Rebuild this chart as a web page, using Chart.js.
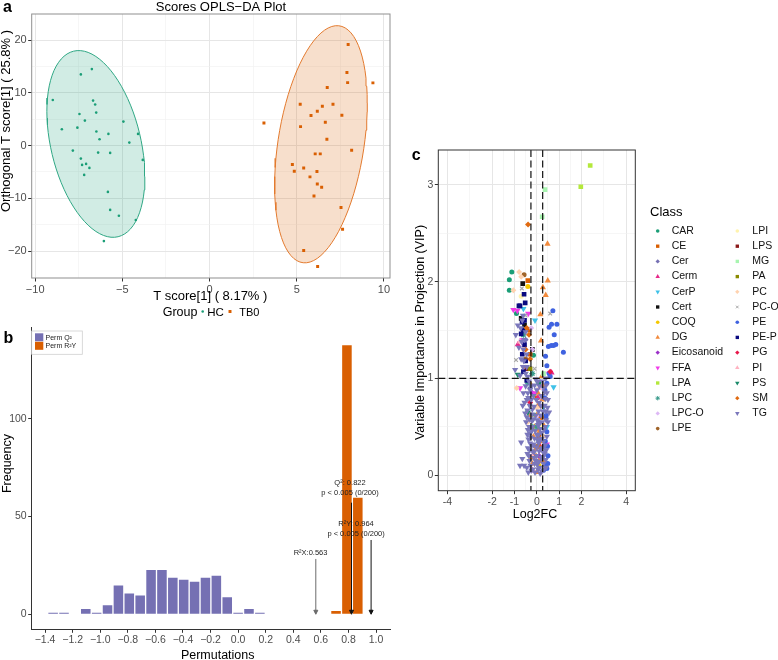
<!DOCTYPE html>
<html><head><meta charset="utf-8">
<script src="https://cdn.jsdelivr.net/npm/chart.js@4.4.1/dist/chart.umd.min.js"></script>
<style>
html,body{margin:0;padding:0;background:#fff;}
body{width:778px;height:660px;position:relative;overflow:hidden;}
.p{position:absolute;}
canvas{display:block;}
</style></head><body>
<div class="p" style="left:0;top:0;"><canvas id="ca" width="400" height="325"></canvas></div>
<div class="p" style="left:0;top:325px;"><canvas id="cb" width="400" height="335"></canvas></div>
<div class="p" style="left:400px;top:140px;"><canvas id="cc" width="378" height="390"></canvas></div>
<script>
// ---------------- DATA ----------------
// Panel a: OPLS-DA scores
const hcT  = [-8.99,-8.47,-7.84,-7.58,-7.46,-7.38,-7.38,-7.31,-7.08,-7.19,-7.15,-6.89,-6.75,-6.68,-6.56,-6.50,-6.49,-6.31,-6.39,-5.80,-5.70,-5.83,-5.70,-5.20,-4.94,-4.60,-4.10,-3.83,-4.23,-6.06];
const hcTo = [8.66,3.10,-0.95,3.40,6.00,13.50,-2.46,-3.66,-3.47,-5.55,4.74,-4.23,14.50,8.53,7.78,6.26,2.66,1.21,-1.33,2.22,-1.38,-8.78,-12.19,-13.30,4.55,0.57,2.22,-2.71,-14.10,-18.10];
const tb0T  = [7.95,7.88,7.92,9.37,6.75,5.20,7.08,6.47,6.18,5.82,7.59,3.12,5.22,6.64,6.73,8.15,6.06,6.35,4.75,4.86,5.40,6.16,5.76,6.18,6.43,5.99,7.54,7.63,5.40,6.20];
const tb0To = [19.15,13.84,11.94,11.89,11.00,7.85,7.85,7.47,6.52,5.69,5.76,4.30,3.60,4.44,1.21,-0.87,-1.57,-1.57,-3.60,-4.85,-4.23,-4.93,-5.93,-7.26,-7.89,-9.54,-11.75,-15.85,-19.90,-22.90];
const groupNames = ['HC','TB0'];
const axTicks = [-10,-5,0,5,10], axMinor = [-7.5,-2.5,2.5,7.5];
const ayTicks = [-20,-10,0,10,20], ayMinor = [-15,-5,5,15];

// Panel b: permutation histogram
const q2BinCenters = [-1.3416,-1.2627,-1.1838,-1.1049,-1.0260,-0.9471,-0.8682,-0.7893,-0.7104,-0.6315,-0.5526,-0.4737,-0.3948,-0.3159,-0.2370,-0.1581,-0.0792,-0.0003,0.0786,0.1575];
const permQ2Counts = [1,1,0,3,1,5,15,11,10,23,23,19,18,17,19,20,9,1,3,1];
const r2yBinCenters = [0.7098,0.7887,0.8676];
const permR2YCounts = [2,138,60];
const annoLabels = ['R\u00B2X:0.563', 'Q\u00B2: 0.822\np < 0.005 (0/200)', 'R\u00B2Y: 0.964\np < 0.005 (0/200)'];
const annoValues = [0.563, 0.822, 0.964];
const annoArrowTop = [28.3, 57.1, 38.0];
const annoTextX = [0.525, 0.811, 0.855];
const annoTextY = [31.2, 64.7, 43.6];
const bxTicks = [-1.4,-1.2,-1.0,-0.8,-0.6,-0.4,-0.2,0,0.2,0.4,0.6,0.8,1.0];
const byTicks = [0,50,100];

// Panel c: VIP vs Log2FC by lipid class  [log2FC, VIP]
const pCAR = [[-1.12,2.10],[-1.23,2.02],[-1.23,1.91],[-0.91,1.67],[-0.15,1.24],[0.09,0.95],[-0.20,0.50],[0.10,0.35],[-0.05,0.62]];
const pCE = [[-0.40,2.01],[-0.35,1.50],[-0.30,1.25],[0.00,0.80],[0.10,0.40],[-0.10,0.20],[0.20,0.60]];
const pCer = [[-0.50,1.40],[-0.30,0.90],[0.10,0.55],[-0.10,0.30],[0.20,0.15]];
const pCerm = [[-0.85,1.35],[0.66,1.06],[0.15,0.30],[-0.20,0.05],[0.05,0.80]];
const pCerP = [[-0.08,1.60],[0.75,0.91],[-0.60,1.72],[0.30,0.70],[0.45,0.50]];
const pCert = [[-0.63,1.98],[-0.70,1.62],[-0.55,1.55],[-0.20,1.30]];
const pCOQ = [[-0.40,1.95],[0.10,0.10]];
const pDG = [[0.48,2.39],[0.49,2.01],[0.27,1.94],[0.40,1.86],[0.16,1.66],[0.19,1.39],[0.22,1.02],[0.28,0.93],[-0.30,0.95],[0.05,0.85],[0.25,0.78],[0.00,0.62],[-0.10,0.50],[0.12,0.45],[0.20,0.35],[-0.05,0.27],[0.10,0.15],[0.00,0.03],[-0.20,0.12],[0.15,0.71],[0.07,0.47],
 [-0.15,0.40],[0.30,0.52],[-0.25,0.18],[0.35,0.15],[0.05,0.72],[-0.30,0.62]];
const pEicosanoid = [[-0.20,0.85],[0.10,0.20]];
const pFFA = [[-1.05,1.71],[-0.87,1.70],[-0.38,1.67],[-0.65,1.40],[0.45,0.32],[0.55,1.05],[-0.10,0.85],[-0.75,0.90]];
const pLPA = [[2.39,3.20],[1.97,2.98]];
const pLPC = [[-0.60,1.45],[-0.20,1.05],[0.00,0.50],[-0.40,0.95]];
const pLPCO = [[-0.25,1.52],[-0.20,1.30],[0.10,0.60]];
const pLPE = [[-0.57,2.07],[-0.50,1.20],[0.05,0.30]];
const pLPI = [[-0.70,1.85],[0.20,0.50]];
const pLPS = [[-0.45,1.10]];
const pMG = [[0.37,2.95],[0.24,2.67],[0.30,1.05]];
const pPA = [[-0.30,1.10]];
const pPC = [[-0.79,2.10],[-1.05,1.91],[-0.70,2.05],[-0.90,0.90],[-0.60,1.30],[0.00,0.70],[0.30,0.40],[-0.40,0.55]];
const pPCO = [[-0.67,1.93],[-0.93,1.19],[0.60,1.67],[-0.50,1.65],[-0.10,1.10]];
const pPE = [[0.72,1.70],[0.66,1.56],[0.90,1.56],[0.55,1.53],[0.78,1.45],[0.52,1.33],[0.65,1.34],[0.75,1.34],[0.85,1.35],[1.19,1.27],[0.39,1.23],[0.45,1.13],[0.55,1.05],[0.60,1.02],[0.45,0.95],[0.35,0.80],[0.40,0.60],[0.45,0.45],[0.35,0.30],[0.40,0.10],[0.30,0.05],[0.50,0.20],[0.45,0.07],[0.49,0.12],
 [0.38,0.35],[0.42,0.62],[0.36,0.88],[0.48,0.30]];
const pPEP = [[-0.57,1.87],[-0.52,1.78],[-0.75,1.75],[-0.66,1.58],[-0.70,1.46],[-0.60,1.50],[-0.55,1.35],[-0.65,1.25],[-0.50,1.18],[-0.60,1.07],[-0.45,0.98],[-0.55,1.60],[-0.80,1.75]];
const pPG = [[0.60,1.07],[-0.30,0.75]];
const pPI = [[-0.75,1.38],[0.10,0.90],[-0.20,0.20]];
const pPS = [[-0.85,1.04],[0.10,0.95],[-0.40,0.65]];
const pSM = [[-0.39,2.59],[-0.45,1.52],[-0.35,1.45],[-0.50,1.30],[-0.30,1.20],[0.20,0.60],[0.10,0.30]];
const pTG = [[-0.94,1.45],[-0.97,1.09],[-0.80,1.32],[-0.70,1.20],[-0.62,1.12],[-0.75,1.03],[-0.55,1.40],[-0.45,1.25],[0.40,1.00],[-0.40,1.02],[-0.85,1.55],[-0.65,1.60],
 [-0.52,0.64],[-0.45,0.78],[-0.30,0.88],[-0.60,0.85],[0.30,0.90],[0.45,0.85],[0.50,0.78],[0.35,0.72],[-0.20,0.68],[0.10,0.75],[0.20,0.82],[-0.10,0.93],[0.55,0.65],[-0.63,0.72],[0.40,0.66],[-0.35,0.97],[0.05,0.97],[-0.25,0.78],
 [-0.48,0.55],[-0.35,0.50],[-0.25,0.45],[-0.15,0.58],[0.05,0.52],[0.15,0.48],[0.25,0.55],[0.38,0.50],[0.45,0.40],[-0.42,0.42],[-0.10,0.38],[0.00,0.42],[0.30,0.35],[-0.30,0.33],[0.50,0.55],[-0.05,0.62],[0.18,0.62],[-0.22,0.56],
 [-0.70,0.34],[-0.65,0.17],[-0.57,0.10],[-0.45,0.08],[-0.75,0.10],[-0.35,0.20],[-0.20,0.25],[-0.10,0.12],[0.00,0.20],[0.10,0.25],[0.20,0.18],[0.30,0.12],[0.35,0.22],[-0.25,0.05],[0.05,0.06],[0.15,0.02],[-0.05,0.15],[0.25,0.28],[-0.40,0.28],[0.42,0.08],[-0.15,0.32],[0.12,0.36],
 [-0.38,0.03],[-0.28,0.10],[-0.18,0.06],[-0.08,0.03],[0.02,0.11],[0.12,0.08],[0.22,0.04],[0.32,0.06],[0.40,0.16],[-0.33,0.15],[-0.12,0.18],[0.08,0.14],[0.28,0.19],
 [-0.42,0.22],[-0.32,0.26],[-0.22,0.31],[-0.12,0.24],[-0.02,0.29],[0.08,0.33],[0.18,0.27],[0.28,0.24],[0.38,0.31],[-0.37,0.37],[-0.27,0.39],[0.03,0.37],[0.22,0.38],[0.42,0.26],
 [-0.40,0.47],[-0.30,0.43],[-0.20,0.50],[-0.08,0.46],[0.02,0.57],[0.12,0.53],[0.22,0.44],[0.32,0.47],[0.42,0.57],[-0.34,0.58],[-0.45,0.60],[0.08,0.42],
 [-0.42,0.67],[-0.32,0.72],[-0.22,0.63],[-0.12,0.71],[-0.02,0.78],[0.08,0.66],[0.18,0.72],[0.28,0.66],[0.38,0.79],[-0.38,0.80],[0.48,0.70],[-0.55,0.75],
 [-0.40,0.85],[-0.25,0.92],[-0.15,0.82],[0.00,0.88],[0.12,0.92],[0.25,0.97],[0.35,0.86],[-0.50,0.92],[0.42,0.93],[-0.05,0.99],
 [-0.50,1.05],[-0.60,1.30],[-0.50,1.48],[-0.68,1.38],[-0.58,1.18],[-0.72,1.52],[-0.45,1.12],[-0.62,1.65]];
const classNames = ['CAR','CE','Cer','Cerm','CerP','Cert','COQ','DG','Eicosanoid','FFA','LPA','LPC','LPC-O','LPE','LPI','LPS','MG','PA','PC','PC-O','PE','PE-P','PG','PI','PS','SM','TG'];
const fcCutoffs = [-0.263, 0.263];
const vipCutoff = 1;
const cxTicks = [-4,-2,-1,0,1,2,4], cxMinor = [-3,-1.5,-0.5,0.5,1.5,3];
const cyTicks = [0,1,2,3], cyMinor = [0.5,1.5,2.5];

// ---------------- STYLE ----------------
const FONT = '"Liberation Sans", Arial, Helvetica, sans-serif';
Chart.defaults.font.family = FONT;
Chart.defaults.color = '#4D4D4D';
Chart.defaults.animation = false;
Chart.defaults.plugins.legend.display = false;
Chart.defaults.plugins.tooltip.enabled = false;

const classData = {CAR:pCAR, CE:pCE, Cer:pCer, Cerm:pCerm, CerP:pCerP, Cert:pCert, COQ:pCOQ, DG:pDG, Eicosanoid:pEicosanoid, FFA:pFFA, LPA:pLPA, LPC:pLPC, 'LPC-O':pLPCO, LPE:pLPE, LPI:pLPI, LPS:pLPS, MG:pMG, PA:pPA, PC:pPC, 'PC-O':pPCO, PE:pPE, 'PE-P':pPEP, PG:pPG, PI:pPI, PS:pPS, SM:pSM, TG:pTG};
const classColor = {CAR:'#1B9E77', CE:'#D95F02', Cer:'#7570B3', Cerm:'#E7298A', CerP:'#3EC1E8', Cert:'#111111', COQ:'#F5C800', DG:'#F28A3C', Eicosanoid:'#9B30C8', FFA:'#F03CE8', LPA:'#B4E83C', LPC:'#3A9B8C', 'LPC-O':'#DDB8F5', LPE:'#A0642A', LPI:'#FFF3AE', LPS:'#8B1A1A', MG:'#A8F5B0', PA:'#8A8A00', PC:'#FFD3B0', 'PC-O':'#A8A8A8', PE:'#3F62E0', 'PE-P':'#0A0A80', PG:'#E8174A', PI:'#FFB3C1', PS:'#1A8A6A', SM:'#E06A10', TG:'#7A77BB'};
const classShape = {CAR:'circle', CE:'rect', Cer:'rectRot', Cerm:'triangle', CerP:'triangleDown', Cert:'rect', COQ:'circle', DG:'triangle', Eicosanoid:'rectRot', FFA:'triangleDown', LPA:'rect', LPC:'star', 'LPC-O':'rectRot', LPE:'circle', LPI:'circle', LPS:'rect', MG:'rect', PA:'rect', PC:'rectRot', 'PC-O':'crossRot', PE:'circle', 'PE-P':'rect', PG:'rectRot', PI:'triangle', PS:'triangleDown', SM:'rectRot', TG:'triangleDown'};
const shapeRadius = {circle:2.5, rect:3.3, rectRot:3.0, triangle:3.6, triangleDown:3.6, star:3.0, crossRot:2.6};

function txt(ctx, s, x, y, o) {
  o = o || {};
  ctx.save();
  ctx.font = (o.weight || 'normal') + ' ' + (o.size || 12) + 'px ' + FONT;
  ctx.fillStyle = o.color || '#000';
  ctx.textAlign = o.align || 'center';
  ctx.textBaseline = o.baseline || 'alphabetic';
  if (o.rotate) { ctx.translate(x, y); ctx.rotate(o.rotate); ctx.fillText(s, 0, 0); }
  else ctx.fillText(s, x, y);
  ctx.restore();
}
function pt(ctx, style, r, x, y, color, rot, bw) {
  ctx.save();
  ctx.fillStyle = color; ctx.strokeStyle = color; ctx.lineWidth = bw || 1;
  const isStroke = style === 'star' || style === 'crossRot';
  if (Chart.helpers && Chart.helpers.drawPoint) {
    Chart.helpers.drawPoint(ctx, {pointStyle: style, radius: r, rotation: rot || 0, borderWidth: isStroke ? (bw || 1) : 0}, x, y);
  } else { ctx.beginPath(); ctx.arc(x, y, r, 0, Math.PI * 2); ctx.fill(); }
  ctx.restore();
}
const near = (arr, v) => arr.some(m => Math.abs(m - v) < 1e-9);

function bwAxis(cfg) {
  const all = cfg.major.concat(cfg.minor || []).sort((a, b) => a - b);
  return {
    type: 'linear', min: cfg.min, max: cfg.max, offset: false,
    afterBuildTicks: s => { s.ticks = all.map(v => ({value: v})); },
    afterFit: s => {
      if (cfg.isX) { s.height = cfg.fixed; s.paddingLeft = 0; s.paddingRight = 0; }
      else { s.width = cfg.fixed; s.paddingTop = 0; s.paddingBottom = 0; }
    },
    grid: {
      display: true, drawOnChartArea: cfg.gridOn !== false, drawTicks: true, offset: false,
      color: c => (c.tick && near(cfg.major, c.tick.value)) ? cfg.majorColor : cfg.minorColor,
      lineWidth: c => (c.tick && near(cfg.major, c.tick.value)) ? 1 : 0.6,
      tickColor: c => (c.tick && near(cfg.major, c.tick.value)) ? '#333333' : 'rgba(0,0,0,0)',
      tickLength: 3.5, tickWidth: 1
    },
    border: cfg.border || {display: false},
    ticks: {autoSkip: false, maxRotation: 0, minRotation: 0, padding: 1.5, color: '#4D4D4D', font: {size: cfg.fontSize},
      callback: v => near(cfg.major, v) ? cfg.fmt(v) : ''}
  };
}

// robust t ellipse (as in ggplot2 stat_ellipse, type "t", level 0.95)
function tEllipse(xs, ys, level, segments) {
  const n = xs.length, nu = 5, p = 2;
  const mean = a => a.reduce((s, v) => s + v, 0) / a.length;
  let loc = [mean(xs), mean(ys)];
  let w = xs.map(() => 1);
  let dx = [], dy = [];
  for (let it = 0; it < 25; it++) {
    const w0 = w.slice();
    dx = xs.map(v => v - loc[0]); dy = ys.map(v => v - loc[1]);
    const sw = w.reduce((s, v) => s + v, 0);
    let sxx = 0, sxy = 0, syy = 0;
    for (let i = 0; i < n; i++) { const k = w[i] / sw; sxx += k * dx[i] * dx[i]; sxy += k * dx[i] * dy[i]; syy += k * dy[i] * dy[i]; }
    const det = sxx * syy - sxy * sxy;
    w = dx.map((d, i) => (nu + p) / (nu + (syy * d * d - 2 * sxy * d * dy[i] + sxx * dy[i] * dy[i]) / det));
    const s2 = w.reduce((s, v) => s + v, 0);
    loc = [xs.reduce((s, v, i) => s + w[i] * v, 0) / s2, ys.reduce((s, v, i) => s + w[i] * v, 0) / s2];
    if (w.every((v, i) => Math.abs(v - w0[i]) < 0.01)) break;
  }
  let cxx = 0, cxy = 0, cyy = 0;
  for (let i = 0; i < n; i++) { cxx += w[i] * dx[i] * dx[i]; cxy += w[i] * dx[i] * dy[i]; cyy += w[i] * dy[i] * dy[i]; }
  cxx /= n; cxy /= n; cyy /= n;
  const dfd = n - 1;
  const fq = (dfd / 2) * (Math.pow(1 - level, -2 / dfd) - 1);
  const r = Math.sqrt(2 * fq);
  const a = Math.sqrt(cxx), b = cxy / a, c = Math.sqrt(cyy - b * b);
  const out = [];
  for (let k = 0; k <= segments; k++) {
    const t = 2 * Math.PI * k / segments;
    out.push({x: loc[0] + r * a * Math.cos(t), y: loc[1] + r * (b * Math.cos(t) + c * Math.sin(t))});
  }
  return out;
}

// ---------------- PANEL A ----------------
const colHC = '#1B9E77', colTB = '#D95F02';
const minusFmt = v => (v < 0 ? '\u2212' : '') + Math.abs(v);
const panelA = {
  id: 'panelA',
  afterDraw(chart) {
    const {ctx, chartArea: ca} = chart;
    ctx.save(); ctx.strokeStyle = '#8f8f8f'; ctx.lineWidth = 1;
    ctx.strokeRect(ca.left, ca.top, ca.right - ca.left, ca.bottom - ca.top); ctx.restore();
    txt(ctx, 'a', 3, 11.5, {size: 16, weight: 'bold', align: 'left'});
    txt(ctx, 'Scores OPLS\u2212DA Plot', 221, 10.5, {size: 13});
    txt(ctx, 'Orthogonal T score[1] ( 25.8% )', 6.5, 121, {size: 13, rotate: -Math.PI / 2, baseline: 'middle'});
    txt(ctx, 'T score[1] ( 8.17% )', 210.3, 299.5, {size: 13});
    txt(ctx, 'Group', 162.7, 315.5, {size: 12.5, align: 'left'});
    pt(ctx, 'circle', 1.3, 202.7, 311.5, colHC);
    txt(ctx, groupNames[0], 207.3, 315.5, {size: 11.5, align: 'left'});
    pt(ctx, 'rect', 2.1, 230, 311.5, colTB);
    txt(ctx, groupNames[1], 239.3, 315.5, {size: 11, align: 'left'});
  }
};
new Chart(document.getElementById('ca'), {
  type: 'scatter',
  data: {datasets: [
    {label: 'HC', data: hcT.map((x, i) => ({x, y: hcTo[i]})), pointStyle: 'circle', pointRadius: 1.3, pointBackgroundColor: colHC, pointBorderWidth: 0, order: 1},
    {label: 'TB0', data: tb0T.map((x, i) => ({x, y: tb0To[i]})), pointStyle: 'rect', pointRadius: 2.1, pointBackgroundColor: colTB, pointBorderWidth: 0, order: 1},
    {label: 'HC ellipse', data: tEllipse(hcT, hcTo, 0.95, 80), showLine: true, pointRadius: 0, borderColor: '#2FA784', borderWidth: 1, backgroundColor: 'rgba(27,158,119,0.2)', fill: 'shape', tension: 0, order: 2},
    {label: 'TB0 ellipse', data: tEllipse(tb0T, tb0To, 0.95, 80), showLine: true, pointRadius: 0, borderColor: '#E37A2E', borderWidth: 1, backgroundColor: 'rgba(217,95,2,0.2)', fill: 'shape', tension: 0, order: 2}
  ]},
  options: {
    responsive: false, events: [],
    layout: {padding: {left: 0, top: 14, right: 10, bottom: 27}},
    scales: {
      x: bwAxis({min: -10.2, max: 10.35, major: axTicks, minor: axMinor, fmt: minusFmt, isX: true, fixed: 20, fontSize: 11, majorColor: '#E6E6E6', minorColor: '#F0F0F0'}),
      y: bwAxis({min: -25.1, max: 24.95, major: ayTicks, minor: ayMinor, fmt: minusFmt, isX: false, fixed: 31.7, fontSize: 11, majorColor: '#E6E6E6', minorColor: '#F0F0F0'})
    }
  },
  plugins: [panelA]
});

// ---------------- PANEL B ----------------
const colQ2 = '#7570B3', colR2Y = '#D95F02';
const annoColors = ['#6B6B6B', '#111111', '#111111'];
const panelB = {
  id: 'panelB',
  afterDatasetsDraw(chart) {
    const {ctx, scales: {x, y}} = chart;
    const y0 = y.getPixelForValue(0);
    annoValues.forEach((v, i) => {
      const px = x.getPixelForValue(v), top = y.getPixelForValue(annoArrowTop[i]);
      ctx.save(); ctx.strokeStyle = annoColors[i]; ctx.fillStyle = annoColors[i]; ctx.lineWidth = 1;
      ctx.beginPath(); ctx.moveTo(px, top); ctx.lineTo(px, y0 - 1); ctx.stroke();
      ctx.beginPath(); ctx.moveTo(px - 2, y0 - 4); ctx.lineTo(px, y0); ctx.lineTo(px + 2, y0 - 4); ctx.closePath(); ctx.fill(); ctx.stroke();
      ctx.restore();
      const lines = annoLabels[i].split('\n');
      const tx = x.getPixelForValue(annoTextX[i]), ty = y.getPixelForValue(annoTextY[i]);
      const lh = 9.5, start = ty - (lines.length - 1) * lh / 2;
      lines.forEach((s, j) => txt(ctx, s, tx, start + j * lh, {size: 7.5, color: '#222', baseline: 'middle'}));
    });
  },
  afterDraw(chart) {
    const {ctx} = chart;
    txt(ctx, 'b', 3.5, 17.5, {size: 16, weight: 'bold', align: 'left'});
    txt(ctx, 'Frequency', 7.5, 138.5, {size: 12.5, rotate: -Math.PI / 2, baseline: 'middle'});
    txt(ctx, 'Permutations', 217.7, 333.5, {size: 12.5});
    ctx.save(); ctx.strokeStyle = '#CFCFCF'; ctx.lineWidth = 0.8; ctx.fillStyle = '#fff';
    ctx.fillRect(31.7, 6, 50.6, 23.3); ctx.strokeRect(31.7, 6, 50.6, 23.3);
    ctx.fillStyle = colQ2; ctx.fillRect(35, 8.3, 8.3, 8);
    ctx.fillStyle = colR2Y; ctx.fillRect(35, 16.8, 8.3, 8);
    ctx.restore();
    txt(ctx, 'Perm Q\u00B2', 45.5, 15, {size: 7, color: '#222', align: 'left'});
    txt(ctx, 'Perm R\u00B2Y', 45.5, 23.4, {size: 7, color: '#222', align: 'left'});
  }
};
const axB = (cfg) => bwAxis(Object.assign({minor: [], majorColor: '#333', minorColor: '#333', gridOn: false, border: {display: true, color: '#333333', width: 1}}, cfg));
new Chart(document.getElementById('cb'), {
  type: 'bar',
  data: {datasets: [
    {label: 'Perm Q\u00B2', data: q2BinCenters.map((x, i) => ({x, y: permQ2Counts[i]})), backgroundColor: colQ2, borderColor: 'rgba(255,255,255,0.4)', borderWidth: 1, grouped: false, categoryPercentage: 1, barPercentage: 1},
    {label: 'Perm R\u00B2Y', data: r2yBinCenters.map((x, i) => ({x, y: permR2YCounts[i]})), backgroundColor: colR2Y, borderColor: 'rgba(255,255,255,0.4)', borderWidth: 1, grouped: false, categoryPercentage: 1, barPercentage: 1}
  ]},
  options: {
    responsive: false, events: [],
    layout: {padding: {left: 0, top: 2, right: 10, bottom: 10.7}},
    scales: {
      x: axB({min: -1.497, max: 1.101, major: bxTicks, fmt: v => (v < -1e-9 ? '\u2212' : '') + Math.abs(v).toFixed(1), isX: true, fixed: 20, fontSize: 10.5}),
      y: axB({min: -7.7, max: 147, major: byTicks, fmt: v => String(v), isX: false, fixed: 31.7, fontSize: 10.5})
    }
  },
  plugins: [panelB]
});

// ---------------- PANEL C ----------------
const panelC = {
  id: 'panelC',
  afterDatasetsDraw(chart) {
    const {ctx, chartArea: ca, scales: {x, y}} = chart;
    ctx.save(); ctx.strokeStyle = '#111'; ctx.lineWidth = 1.2; ctx.setLineDash([7, 3.5]);
    fcCutoffs.forEach(v => { const px = x.getPixelForValue(v); ctx.beginPath(); ctx.moveTo(px, ca.top); ctx.lineTo(px, ca.bottom); ctx.stroke(); });
    const py = y.getPixelForValue(vipCutoff);
    ctx.beginPath(); ctx.moveTo(ca.left, py); ctx.lineTo(ca.right, py); ctx.stroke();
    ctx.restore();
  },
  afterDraw(chart) {
    const {ctx, chartArea: ca} = chart;
    ctx.save(); ctx.strokeStyle = '#333'; ctx.lineWidth = 1;
    ctx.strokeRect(ca.left, ca.top, ca.right - ca.left, ca.bottom - ca.top); ctx.restore();
    txt(ctx, 'c', 11.7, 20, {size: 16, weight: 'bold', align: 'left'});
    txt(ctx, 'Variable Importance in Projection (VIP)', 20.7, 192.5, {size: 12.5, rotate: -Math.PI / 2, baseline: 'middle'});
    txt(ctx, 'Log2FC', 135, 377.5, {size: 12.5});
    txt(ctx, 'Class', 250, 76, {size: 13, align: 'left'});
    classNames.forEach((name, i) => {
      const col = i < 14 ? 0 : 1, row = i < 14 ? i : i - 14;
      const sx = col ? 337.3 : 257.7, tx = col ? 352.3 : 271.7, yy = 91 + row * 15.2;
      const shp = classShape[name];
      const down = shp === 'triangleDown';
      const style = down ? 'triangle' : shp;
      pt(ctx, style, shapeRadius[shp] * 0.72, sx, yy, classColor[name], down ? 180 : 0, 1);
      txt(ctx, name, tx, yy, {size: 10.5, align: 'left', baseline: 'middle', color: '#111'});
    });
  }
};
new Chart(document.getElementById('cc'), {
  type: 'scatter',
  data: {datasets: classNames.map((name, i) => {
    const shp = classShape[name];
    const down = shp === 'triangleDown';
    const style = down ? 'triangle' : shp;
    const stroke = style === 'star' || style === 'crossRot';
    return {
      label: name,
      data: classData[name].map(p => ({x: p[0], y: p[1]})),
      pointStyle: style, pointRotation: down ? 180 : 0,
      pointRadius: shapeRadius[shp],
      pointBackgroundColor: classColor[name], pointBorderColor: classColor[name],
      pointBorderWidth: stroke ? 1.2 : 0,
      order: classNames.length - i
    };
  })},
  options: {
    responsive: false, events: [],
    layout: {padding: {left: 0, top: 10, right: 142.7, bottom: 19.3}},
    scales: {
      x: bwAxis({min: -4.41, max: 4.41, major: cxTicks, minor: cxMinor, fmt: v => String(v), isX: true, fixed: 20, fontSize: 10.5, majorColor: '#E6E6E6', minorColor: '#F0F0F0'}),
      y: bwAxis({min: -0.16, max: 3.36, major: cyTicks, minor: cyMinor, fmt: v => String(v), isX: false, fixed: 38.3, fontSize: 10.5, majorColor: '#E6E6E6', minorColor: '#F0F0F0'})
    }
  },
  plugins: [panelC]
});
</script>
</body></html>
